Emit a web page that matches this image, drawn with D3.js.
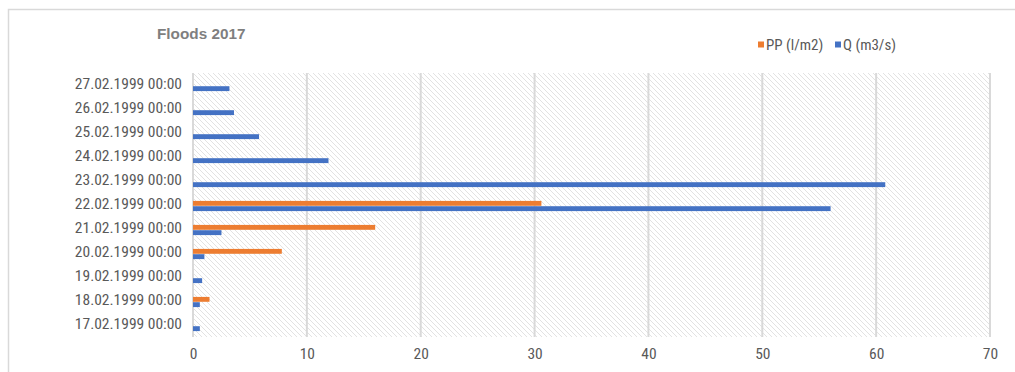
<!DOCTYPE html>
<html>
<head>
<meta charset="utf-8">
<script src="https://cdn.jsdelivr.net/npm/d3@7"></script>
<style>
  html, body { margin: 0; padding: 0; background: #fff; }
  svg { display: block; }
</style>
</head>
<body>
<svg id="chart" width="1015" height="372"></svg>
<script>
// Daily flood record: precipitation and discharge
const categories = [
  "17.02.1999 00:00", "18.02.1999 00:00", "19.02.1999 00:00", "20.02.1999 00:00",
  "21.02.1999 00:00", "22.02.1999 00:00", "23.02.1999 00:00", "24.02.1999 00:00",
  "25.02.1999 00:00", "26.02.1999 00:00", "27.02.1999 00:00"
];
const ppValues = [0, 1.45, 0, 7.8, 16.0, 30.6, 0, 0, 0, 0, 0];
const qValues  = [0.6, 0.6, 0.8, 1.0, 2.5, 56.0, 60.8, 11.9, 5.8, 3.6, 3.2];
const seriesNames = ["PP (l/m2)", "Q (m3/s)"];
const seriesColors = ["#ED7D31", "#4472C4"];
const xTicks = [0, 10, 20, 30, 40, 50, 60, 70];
const chartTitle = "Floods 2017";

const narrow = "'Liberation Sans Narrow', 'Arial Narrow', 'Roboto Condensed', sans-serif";
const textColor = "#595959";
const gridColor = "#d9d9d9";

const svg = d3.select("#chart");

// outer chart frame (top and left edges)
svg.append("path")
  .attr("d", "M8.5,372 V9.5 H1015")
  .attr("fill", "none")
  .attr("stroke", "#d9d9d9")
  .attr("stroke-width", 1.5);

const plot = { left: 193, right: 990, top: 73, bottom: 337 };

const x = d3.scaleLinear().domain([0, 70]).range([plot.left, plot.right]);
const y = d3.scaleBand()
  .domain(categories.slice().reverse())
  .range([plot.top, plot.bottom])
  .paddingInner(0.54).paddingOuter(0.27);
const sub = d3.scaleBand().domain(seriesNames).range([0, y.bandwidth()]).padding(0.08);

// hatched plot background
const defs = svg.append("defs");
const pat = defs.append("pattern")
  .attr("id", "hatch")
  .attr("patternUnits", "userSpaceOnUse")
  .attr("width", 5).attr("height", 5);
pat.append("rect").attr("width", 5).attr("height", 5).attr("fill", "#fff");
pat.append("path")
  .attr("d", "M-1,-1 L6,6 M-1,4 L1,6 M4,-1 L6,1")
  .attr("stroke", "#e2e2e2")
  .attr("stroke-width", 1);

svg.append("rect")
  .attr("x", plot.left).attr("y", plot.top)
  .attr("width", plot.right - plot.left)
  .attr("height", plot.bottom - plot.top)
  .attr("fill", "url(#hatch)");

// vertical gridlines
svg.append("g")
  .selectAll("line")
  .data(xTicks)
  .join("line")
  .attr("x1", d => x(d)).attr("x2", d => x(d))
  .attr("y1", plot.top).attr("y2", plot.bottom)
  .attr("stroke", gridColor)
  .attr("stroke-width", 2);

// bars
const rows = categories.map((c, i) => ({ cat: c, vals: [ppValues[i], qValues[i]] }));
const groups = svg.append("g")
  .selectAll("g")
  .data(rows)
  .join("g")
  .attr("transform", d => `translate(0,${y(d.cat) + 1})`);

groups.selectAll("rect")
  .data(d => d.vals.map((v, k) => ({ v, k })))
  .join("rect")
  .filter(d => d.v > 0)
  .attr("x", x(0))
  .attr("y", d => sub(seriesNames[d.k]))
  .attr("width", d => x(d.v) - x(0))
  .attr("height", sub.bandwidth())
  .attr("fill", d => seriesColors[d.k]);

// category axis
const yAxis = svg.append("g")
  .attr("transform", `translate(${plot.left},-1)`)
  .call(d3.axisLeft(y).tickSize(0).tickPadding(11));
yAxis.select(".domain").remove();
yAxis.selectAll("text")
  .attr("fill", textColor)
  .style("font-family", narrow)
  .style("font-size", "15.5px");

// value axis
const xAxis = svg.append("g")
  .attr("transform", `translate(0,${plot.bottom})`)
  .call(d3.axisBottom(x).tickValues(xTicks).tickSize(0).tickPadding(11));
xAxis.select(".domain").remove();
xAxis.selectAll("text")
  .attr("fill", textColor)
  .style("font-family", narrow)
  .style("font-size", "15.5px");

// title
svg.append("text")
  .attr("x", 157).attr("y", 39)
  .attr("fill", "#7f7f7f")
  .style("font-family", "'Liberation Sans', Arial, sans-serif")
  .style("font-weight", "bold")
  .style("font-size", "15.3px")
  .text(chartTitle);

// legend
const legendX = [758, 835];
const legend = svg.append("g")
  .selectAll("g")
  .data(seriesNames)
  .join("g")
  .attr("transform", (d, i) => `translate(${legendX[i]},45)`);
legend.append("rect")
  .attr("x", 0).attr("y", -3.5)
  .attr("width", 6).attr("height", 6)
  .attr("fill", (d, i) => seriesColors[i]);
legend.append("text")
  .attr("x", 8).attr("y", 0)
  .attr("dy", "0.35em")
  .attr("fill", textColor)
  .style("font-family", narrow)
  .style("font-size", "15px")
  .text(d => d);
</script>
</body>
</html>
